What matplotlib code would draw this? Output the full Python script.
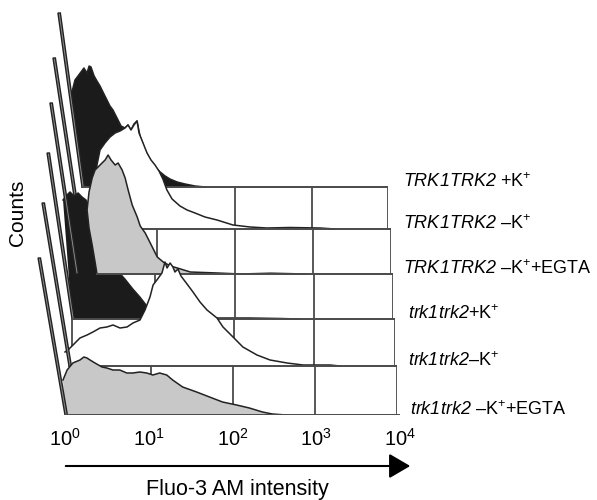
import matplotlib.pyplot as plt
from matplotlib.patches import FancyArrowPatch
from matplotlib.ticker import LogFormatterMathtext, NullLocator

plt.rcParams['font.family'] = ['Liberation Sans', 'DejaVu Sans']
plt.rcParams['mathtext.fontset'] = 'custom'
# rm is italic so that the digits of the gene names come out slanted too
plt.rcParams['mathtext.rm'] = 'Liberation Sans:italic'
plt.rcParams['mathtext.it'] = 'Liberation Sans:italic'
plt.rcParams['mathtext.sf'] = 'Liberation Sans'
plt.rcParams['mathtext.bf'] = 'Liberation Sans:bold'

W, H = 597, 500

labels = [r'$\mathrm{TRK1TRK2}$ +K$^{\mathsf{+}}$',
          r'$\mathrm{TRK1TRK2}$ –K$^{\mathsf{+}}$',
          r'$\mathrm{TRK1TRK2}$ –K$^{\mathsf{+}}$+EGTA',
          r'$\mathrm{trk1trk2}$+K$^{\mathsf{+}}$',
          r'$\mathrm{trk1trk2}$–K$^{\mathsf{+}}$',
          r'$\mathrm{trk1trk2}$ –K$^{\mathsf{+}}$+EGTA']

# first channel (off scale) of every histogram
spike_fl = [0.485, 0.464, 0.469, 0.491, 0.469, 0.477]
spike_counts = [174, 171, 171, 166, 163, 157]

p1_fl = [0.697, 0.762, 0.810, 0.887, 0.970, 1.06, 1.16, 1.24, 1.31, 1.44, 1.57, 1.72,
         1.88, 2.12, 2.32, 2.54, 2.87, 3.24, 3.65, 3.99, 4.37, 4.78, 5.24, 5.73, 6.66,
         7.74, 9.0, 10.5, 12.2, 14.1, 17.5, 22.2, 30.0, 40.5]
p1_counts = [90, 99, 107, 111, 115, 119, 114, 121, 120, 111, 106, 101, 95, 87, 81, 77,
             69, 61, 59, 62, 57, 63, 66, 51, 37, 27, 20, 15, 11, 8, 5, 3, 1, 0]

p2_fl = [1.65, 1.70, 1.86, 2.15, 2.50, 2.90, 3.36, 3.89, 4.25, 4.64, 5.07, 5.54, 5.88,
         6.62, 7.45, 8.38, 9.43, 10.6, 11.9, 13.4, 15.6, 19.7, 24.3, 30.7, 41.2, 58.8,
         94.2, 156, 257, 507, 1230, 1910]
p2_counts = [0, 64, 79, 86, 92, 96, 98, 101, 104, 99, 104, 108, 96, 86, 76, 69, 64, 58,
             50, 39, 30, 23, 19, 16, 12, 9, 4, 2, 1, 1.5, 1, 0]

p3_fl = [1.84, 1.74, 1.60, 1.46, 1.38, 1.46, 1.60, 1.74, 1.90, 2.13, 2.33, 2.54, 2.77,
         3.12, 3.40, 3.82, 4.17, 4.55, 5.12, 5.92, 6.46, 7.47, 8.40, 9.44, 10.6, 12.6,
         15.5, 19.0, 27.7, 61, 119, 286, 790]
p3_counts = [0, 12, 29, 46, 64, 82, 96, 104, 107, 111, 114, 119, 114, 109, 111, 104, 96,
             84, 69, 57, 48, 41, 33, 25, 17, 12, 8, 6, 2, 1, 0, 0.8, 0]

p4_fl = [0.774, 0.843, 0.944, 1.06, 1.19, 1.33, 1.49, 1.77, 2.22, 2.78, 3.59, 4.51, 5.66,
         6.92, 8.43, 9.45, 10.6, 58, 158, 370, 653]
p4_counts = [119, 123, 127, 123, 126, 122, 119, 107, 89, 69, 49, 40, 30, 22, 13, 6, 0,
             1, 1, 0.5, 0]

p5_fl = [0.894, 0.972, 1.12, 1.36, 1.66, 1.96, 2.39, 2.90, 3.44, 4.19, 5.10, 6.03, 7.34,
         8.45, 9.72, 10.6, 11.8, 13.6, 14.8, 15.7, 17.1, 18.5, 19.6, 21.3, 23.2, 27.5,
         32.5, 39.6, 48.2, 63.8, 75.5, 100, 132, 196, 283, 456, 714, 1520, 2020]
p5_counts = [14, 16, 21, 28, 31, 34, 38, 39, 41, 38, 39, 43, 46, 56, 69, 81, 86, 93, 104,
             98, 103, 99, 94, 97, 90, 82, 74, 64, 56, 48, 39, 29, 19, 11, 6, 3, 1, 1, 0]

p6_fl = [0.946, 1.06, 1.24, 1.51, 1.68, 1.83, 1.99, 2.28, 2.76, 3.16, 3.73, 4.51, 5.47,
         6.45, 7.81, 9.46, 11.2, 13.5, 16.4, 19.3, 25.4, 37.3, 53.2, 76, 112, 159, 228,
         299, 440]
p6_counts = [35, 45, 52, 55, 58, 57, 55, 52, 48, 47, 45, 45, 42, 42, 43, 42, 40, 42, 40,
             35, 28, 23, 18, 13, 10, 7, 3, 1, 0]

fl_all = [p1_fl, p2_fl, p3_fl, p4_fl, p5_fl, p6_fl]
counts_all = [p1_counts, p2_counts, p3_counts, p4_counts, p5_counts, p6_counts]

# layout of the offset panels (pixels)
base = [187, 229, 274, 319, 366, 415]
dec0 = [82, 79, 76, 72, 69, 65]
dec4 = [388, 391, 393, 395, 397, 400]
label_pad = [15, 12, 10, 13, 11, 10]
draw_order = [0, 1, 3, 2, 4, 5]
fills = ['#1b1b1b', 'white', '#c8c8c8', '#1b1b1b', 'white', '#c8c8c8']
edge = '#222222'
grid_c = '#4a4a4a'
LEFT = 0.45

fig = plt.figure(figsize=(W / 100, H / 100), dpi=100)

for k in range(6):
    sp = (dec4[k] - dec0[k]) / 4
    bottom = base[k + 1] if k < 5 else base[k]
    ax = fig.add_axes([(dec0[k] - LEFT * sp) / W, 1 - bottom / H,
                       (4 + LEFT) * sp / W, bottom / H])
    ax.set_zorder(draw_order.index(k) + 1)
    ax.patch.set_visible(False)
    ax.set_xscale('log')
    ax.set_xlim(10 ** -LEFT, 1e4)
    ax.set_ylim(-(bottom - base[k]), base[k])

    # box hanging below the baseline
    depth = bottom - base[k]
    if depth > 0:
        decs = [10, 100, 1000, 10000] + ([1] if k == 3 else [])
        for d in decs:
            ax.plot([d, d], [0, -depth], color=grid_c, lw=1.3, zorder=1)

    fl, ct = fl_all[k], counts_all[k]
    xs = [1.0] + fl + [fl[-1]]
    ys = [0] + ct + [0]
    ax.fill(xs, ys, facecolor=fills[k], edgecolor='none', zorder=2)
    ax.plot(fl, ct, color=edge, lw=1.1, zorder=3)

    x_start = fl[0] if ct[0] == 0 else 1.0
    ax.plot([x_start, 1e4], [0, 0], color=grid_c, lw=1.4, zorder=4)

    # off-scale first channel
    w = 10 ** (2.4 / sp)
    ax.fill([1.0, spike_fl[k], spike_fl[k] * w, w], [0, spike_counts[k], spike_counts[k], 0],
            facecolor='#8c8c8c', edgecolor=edge, lw=1.0, zorder=3)

    ax.annotate(labels[k], xy=(1e4, 0), xytext=(label_pad[k], 0),
                textcoords='offset pixels', ha='left', va='baseline', fontsize=13,
                annotation_clip=False)

    if k == 5:
        for s in ax.spines.values():
            s.set_visible(False)
        ax.set_yticks([])
        ax.set_xticks([1, 10, 100, 1000, 10000])
        ax.xaxis.set_major_formatter(LogFormatterMathtext())
        ax.xaxis.set_minor_locator(NullLocator())
        ax.tick_params(axis='x', length=0, pad=9, labelsize=14.5)
    else:
        ax.axis('off')

fig.add_artist(FancyArrowPatch((63 / W, 1 - 466 / H), (413 / W, 1 - 466 / H),
                               transform=fig.transFigure,
                               arrowstyle='-|>,head_length=0.65,head_width=0.38',
                               mutation_scale=20, color='black', lw=1.5, zorder=20))
fig.text(237 / W, 1 - 490 / H, 'Fluo-3 AM intensity', ha='center', va='center',
         fontsize=15.5, zorder=20)
fig.text(17 / W, 1 - 213 / H, 'Counts', rotation=90, ha='center', va='center',
         fontsize=15, zorder=20)

fig.savefig('out.png', dpi=100)
